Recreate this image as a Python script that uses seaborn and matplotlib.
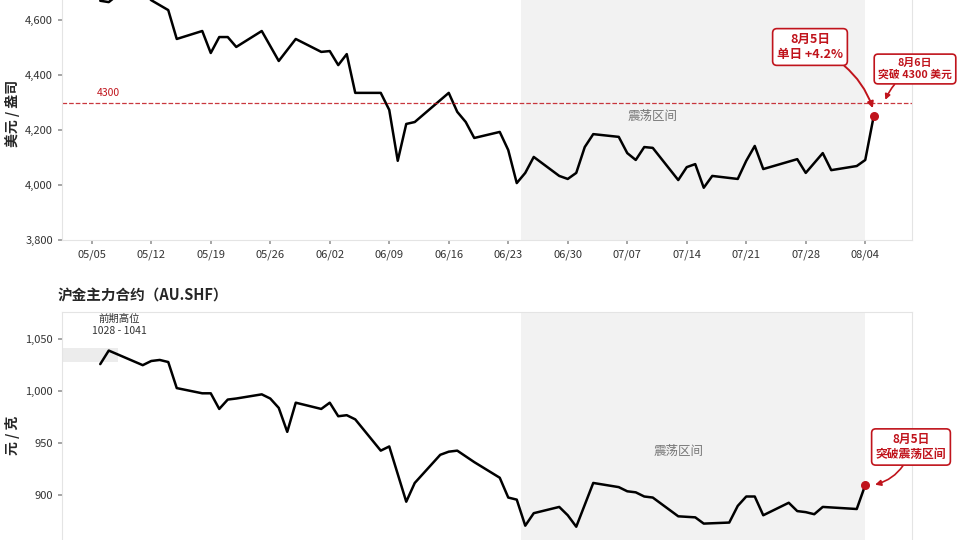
import matplotlib
matplotlib.use("Agg")
import matplotlib.pyplot as plt
import matplotlib.dates as mdates
import matplotlib.ticker as mticker
import pandas as pd
import seaborn as sns

# ---- data (day offsets from 2025-05-05) ----
start = pd.Timestamp("2025-05-05")

intl_days = [1, 2, 5, 7, 9, 10, 13, 14, 15, 16, 17, 20, 22, 24, 27, 28, 29, 30, 31,
             34, 35, 36, 37, 38, 42, 43, 44, 45, 48, 49, 50, 51, 52, 55, 56, 57, 58, 59,
             62, 63, 64, 65, 66, 69, 70, 71, 72, 73, 76, 77, 78, 79, 83, 84, 86, 87, 90, 91, 92]
intl_price = [4670, 4665, 4740, 4672, 4636, 4531, 4560, 4480, 4538, 4538, 4502, 4560, 4451, 4531,
              4484, 4487, 4436, 4476, 4335, 4335, 4273, 4088, 4222, 4229, 4335, 4266, 4229, 4171,
              4193, 4127, 4007, 4044, 4102, 4033, 4022, 4044, 4138, 4185, 4175, 4116, 4091, 4138,
              4135, 4018, 4065, 4076, 3990, 4033, 4022, 4088, 4142, 4058, 4094, 4044, 4116, 4054,
              4069, 4091, 4251]

shf_days = [1, 2, 6, 7, 8, 9, 10, 13, 14, 15, 16, 17, 20, 21, 22, 23, 24, 27, 28, 29, 30, 31,
            34, 35, 37, 38, 41, 42, 43, 45, 48, 49, 50, 51, 52, 55, 56, 57, 59, 62, 63, 64, 65, 66,
            69, 71, 72, 75, 76, 77, 78, 79, 82, 83, 84, 85, 86, 90, 91]
shf_price = [1026, 1039, 1025, 1029, 1030, 1028, 1003, 998, 998, 983, 992, 993, 997, 993, 984, 961,
             989, 983, 989, 976, 977, 973, 943, 947, 894, 912, 939, 942, 943, 932, 917, 898, 896,
             871, 883, 889, 881, 870, 912, 908, 904, 903, 899, 898, 880, 879, 873, 874, 890, 899,
             899, 881, 893, 885, 884, 882, 889, 887, 910]

range_start, range_end = "2025-06-24 12:00", "2025-08-04"
tick_dates = ["05/05", "05/12", "05/19", "05/26", "06/02", "06/09", "06/16", "06/23",
              "06/30", "07/07", "07/14", "07/21", "07/28", "08/04"]

df_intl = pd.DataFrame({"date": [start + pd.Timedelta(days=d) for d in intl_days], "price": intl_price})
df_shf = pd.DataFrame({"date": [start + pd.Timedelta(days=d) for d in shf_days], "price": shf_price})

sns.set_theme(style="white")
plt.rcParams["font.family"] = ["Noto Sans CJK SC", "DejaVu Sans"]
RED = "#c0141c"
GREY_TXT = "#777777"

fig = plt.figure(figsize=(9.6, 5.4), dpi=100)
ax1 = fig.add_axes([62 / 960, 300 / 540, 850 / 960, 253 / 540])
ax2 = fig.add_axes([62 / 960, -18 / 540, 850 / 960, 246 / 540])

sns.lineplot(data=df_intl, x="date", y="price", ax=ax1, color="black", lw=1.8)
sns.lineplot(data=df_shf, x="date", y="price", ax=ax2, color="black", lw=1.8)

xlim = (start - pd.Timedelta(days=3.5), start + pd.Timedelta(days=96.5))
ticks = [pd.Timestamp("2025/" + t) for t in tick_dates]

for ax in (ax1, ax2):
    ax.axvspan(pd.Timestamp(range_start), pd.Timestamp(range_end), color="#f2f2f2", lw=0, zorder=0)
    ax.set_xlim(*xlim)
    ax.set_xticks(ticks)
    ax.xaxis.set_major_formatter(mdates.DateFormatter("%m/%d"))
    for s in ax.spines.values():
        s.set_color("#e4e4e4")
        s.set_linewidth(0.8)
    ax.tick_params(axis="both", labelsize=8, length=3, color="#999999", labelcolor="#333333",
                   bottom=True, left=True)
    ax.set_xlabel("")
ax2.tick_params(axis="x", labelbottom=False)

# ---- top: international gold ----
ax1.set_ylim(3800, 4720)
ax1.set_yticks([3800, 4000, 4200, 4400, 4600])
ax1.yaxis.set_major_formatter(mticker.StrMethodFormatter("{x:,.0f}"))
ax1.set_ylabel("美元 / 盎司", fontsize=10, fontweight="bold", labelpad=4)
ax1.axhline(4300, color=RED, ls="--", lw=0.9, alpha=0.85)
ax1.text(start + pd.Timedelta(days=0.6), 4322, "4300", color=RED, fontsize=7.5)
ax1.text(pd.Timestamp("2025-07-10"), 4250, "震荡区间", color=GREY_TXT, fontsize=9, ha="center", va="center")
last = df_intl.iloc[-1]
ax1.scatter([last["date"]], [last["price"]], color=RED, s=30, zorder=5)
box = dict(boxstyle="round,pad=0.35", fc="white", ec=RED, lw=1.2)
ax1.annotate("8月5日\n单日 +4.2%", xy=(last["date"], 4270), xytext=(810 / 960, 1 - 47 / 540),
             textcoords="figure fraction", ha="center", va="center", color=RED, fontsize=9,
             fontweight="bold", bbox=box, annotation_clip=False,
             arrowprops=dict(arrowstyle="-|>", color=RED, lw=1.4, connectionstyle="arc3,rad=-0.25",
                             shrinkA=0, shrinkB=2))
ax1.annotate("8月6日\n突破 4300 美元", xy=(start + pd.Timedelta(days=93.3), 4305),
             xytext=(915 / 960, 1 - 69 / 540), textcoords="figure fraction", ha="center",
             va="center", color=RED, fontsize=7.8, fontweight="bold", bbox=box,
             annotation_clip=False,
             arrowprops=dict(arrowstyle="-|>", color=RED, lw=1.2, connectionstyle="arc3,rad=0.2",
                             shrinkA=0, shrinkB=1))

# ---- bottom: SHFE gold ----
ax2.set_ylim(840, 1076)
ax2.set_yticks([900, 950, 1000, 1050])
ax2.yaxis.set_major_formatter(mticker.StrMethodFormatter("{x:,.0f}"))
ax2.set_ylabel("元 / 克", fontsize=10, fontweight="bold", labelpad=4)
ax2.set_title("沪金主力合约（AU.SHF）", loc="left", fontsize=10.5, fontweight="bold", x=-0.005, pad=8)
ax2.axhspan(1028, 1041, xmin=0, xmax=56 / 850, color="#ececec", lw=0, zorder=0)
ax2.text(start + pd.Timedelta(days=3.2), 1053, "前期高位\n1028 - 1041", ha="center", va="bottom",
         fontsize=7.5, color="#333333", linespacing=1.3)
ax2.text(pd.Timestamp("2025-07-13"), 942, "震荡区间", color=GREY_TXT, fontsize=9, ha="center", va="center")
last2 = df_shf.iloc[-1]
ax2.scatter([last2["date"]], [last2["price"]], color=RED, s=30, zorder=5)
ax2.annotate("8月5日\n突破震荡区间", xy=(start + pd.Timedelta(days=92), last2["price"]),
             xytext=(911 / 960, 1 - 447 / 540), textcoords="figure fraction", ha="center",
             va="center", color=RED, fontsize=8.5, fontweight="bold", bbox=box,
             annotation_clip=False,
             arrowprops=dict(arrowstyle="-|>", color=RED, lw=1.2, connectionstyle="arc3,rad=-0.3",
                             shrinkA=0, shrinkB=1))

fig.savefig("out.png", dpi=100)
